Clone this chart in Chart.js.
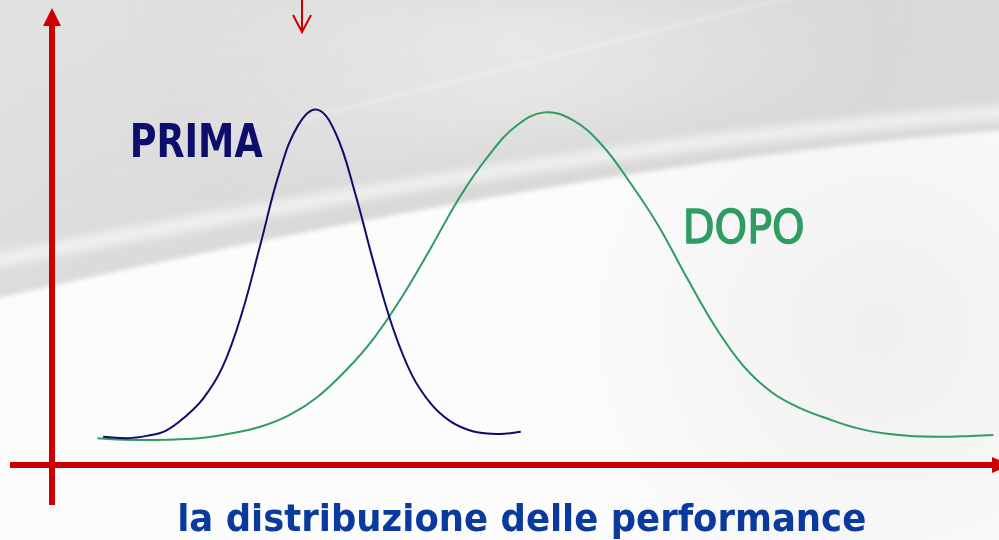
<!DOCTYPE html>
<html>
<head>
<meta charset="utf-8">
<script src="https://cdn.jsdelivr.net/npm/chart.js@4.4.1/dist/chart.umd.min.js"></script>
<style>
  html, body { margin: 0; padding: 0; background: #fcfcfc; overflow: hidden; }
  #wrap { width: 999px; height: 540px; }
</style>
</head>
<body>
<div id="wrap"><canvas id="c" width="999" height="540"></canvas></div>
<script>
// ---- Data (performance units 0..100, frequency units 0..100) ----
const primaX = [5.4, 8, 10, 12, 14, 16, 18, 20, 22, 24, 26, 28, 30, 32, 34, 36, 38, 40, 42, 44, 46, 48, 49.5];
const primaY = [6.2, 5.9, 6.4, 7.5, 10.5, 14.7, 21.5, 33.0, 48.4, 64.2, 74.7, 78.1, 72.7, 59.8, 44.2, 30.1, 19.8, 13.5, 9.7, 7.7, 6.9, 6.9, 7.3];

const dopoX = [4.8, 7, 10, 13, 16, 19, 22, 25, 28, 31, 34, 37, 40, 43, 46, 49, 52, 55, 58, 61, 64, 67, 70, 73, 76, 79, 82, 85, 88, 91, 94, 97, 99.4];
const dopoY = [5.9, 5.6, 5.5, 5.6, 6.0, 7.0, 8.4, 10.9, 14.9, 20.7, 27.9, 37.1, 47.7, 58.7, 67.7, 74.5, 77.5, 75.8, 70.5, 62.2, 52.7, 41.3, 30.5, 21.8, 16.0, 12.5, 10.1, 8.1, 6.9, 6.3, 6.2, 6.4, 6.6];

const seriesLabels = ['PRIMA', 'DOPO'];
const axisTitle = 'la distribuzione delle performance';
const markerX = 26.4;           // small arrow marker on the performance axis
const primaLabelPos = [8.2, 67.7];
const dopoLabelPos = [66.6, 48.8];

// ---- Colours ----
const NAVY = '#0d0d6b';
const GREEN = '#2f9c63';
const RED = '#cc0000';
const TITLE_BLUE = '#0a3a9e';

function fitText(ctx, text, x, y, targetW, center, strokeW) {
  const w = ctx.measureText(text).width;
  const s = targetW / w;
  ctx.save();
  ctx.translate(x, y);
  ctx.scale(s, 1);
  ctx.textAlign = 'left';
  ctx.textBaseline = 'alphabetic';
  const tx = center ? -w / 2 : 0;
  ctx.fillText(text, tx, 0);
  if (strokeW) {
    ctx.lineWidth = strokeW;
    ctx.lineJoin = 'round';
    ctx.strokeStyle = ctx.fillStyle;
    ctx.strokeText(text, tx, 0);
  }
  ctx.restore();
}

const backgroundPlugin = {
  id: 'bgPaint',
  beforeDraw(chart) {
    const { ctx, width, height } = chart;
    ctx.save();
    ctx.fillStyle = '#fcfcfc';
    ctx.fillRect(0, 0, width, height);

    // soft grey shade in the lower right
    let rg = ctx.createRadialGradient(880, 330, 10, 880, 330, 330);
    rg.addColorStop(0, 'rgba(228,228,228,0.5)');
    rg.addColorStop(1, 'rgba(228,228,228,0)');
    ctx.fillStyle = rg;
    ctx.fillRect(0, 0, width, height);

    // grey upper region
    ctx.filter = 'blur(2px)';
    const lg = ctx.createLinearGradient(0, 0, 200, 320);
    lg.addColorStop(0, '#e2e2e2');
    lg.addColorStop(1, '#d9d9d9');
    ctx.fillStyle = lg;
    ctx.beginPath();
    ctx.moveTo(-10, -10);
    ctx.lineTo(width + 10, -10);
    ctx.lineTo(width + 10, 130);
    ctx.quadraticCurveTo(600, 160, -10, 300);
    ctx.closePath();
    ctx.fill();

    // slightly lighter top-middle wash
    ctx.filter = 'blur(24px)';
    const tg = ctx.createRadialGradient(520, 20, 10, 520, 20, 360);
    tg.addColorStop(0, 'rgba(236,236,236,0.8)');
    tg.addColorStop(1, 'rgba(236,236,236,0)');
    ctx.fillStyle = tg;
    ctx.beginPath();
    ctx.moveTo(0, 0); ctx.lineTo(width, 0); ctx.lineTo(width, 90);
    ctx.quadraticCurveTo(600, 110, 0, 230);
    ctx.closePath();
    ctx.fill();

    // white streak above the boundary
    ctx.filter = 'blur(5px)';
    ctx.strokeStyle = 'rgba(255,255,255,0.6)';
    ctx.lineWidth = 14;
    ctx.beginPath();
    ctx.moveTo(-10, 262);
    ctx.quadraticCurveTo(600, 140, width + 10, 112);
    ctx.stroke();

    // thin diagonal light streak
    ctx.filter = 'blur(2px)';
    ctx.strokeStyle = 'rgba(255,255,255,0.35)';
    ctx.lineWidth = 3;
    ctx.beginPath();
    ctx.moveTo(300, 120);
    ctx.lineTo(800, -5);
    ctx.stroke();

    // faint horizontal texture streaks top-left
    ctx.filter = 'blur(1.5px)';
    ctx.strokeStyle = 'rgba(255,255,255,0.12)';
    ctx.lineWidth = 2;
    [40, 58, 83, 104, 128, 150, 176, 205].forEach((yy, i) => {
      ctx.beginPath();
      ctx.moveTo(0, yy);
      ctx.lineTo(260 + i * 15, yy - 6);
      ctx.stroke();
    });
    ctx.filter = 'none';
    ctx.restore();
  }
};

const decorPlugin = {
  id: 'decor',
  afterDatasetsDraw(chart) {
    const { ctx, chartArea } = chart;
    const xs = chart.scales.x, ys = chart.scales.y;
    const ox = xs.getPixelForValue(0);
    const oy = ys.getPixelForValue(0);
    const right = chart.width;
    ctx.save();

    // axes
    ctx.strokeStyle = RED;
    ctx.fillStyle = RED;
    ctx.lineWidth = 6;
    ctx.lineCap = 'butt';
    ctx.beginPath();
    ctx.moveTo(ox, oy + 40);
    ctx.lineTo(ox, chartArea.top + 14);
    ctx.stroke();
    ctx.beginPath();
    ctx.moveTo(10, oy);
    ctx.lineTo(right - 6, oy);
    ctx.stroke();
    // y arrow head
    ctx.beginPath();
    ctx.moveTo(ox, chartArea.top - 2);
    ctx.lineTo(ox + 9, chartArea.top + 16);
    ctx.lineTo(ox - 9, chartArea.top + 16);
    ctx.closePath();
    ctx.fill();
    // x arrow head (partly outside)
    ctx.beginPath();
    ctx.moveTo(right - 7, oy - 8);
    ctx.lineTo(right + 11, oy);
    ctx.lineTo(right - 7, oy + 8);
    ctx.closePath();
    ctx.fill();

    // small marker arrow at top
    const mx = xs.getPixelForValue(markerX);
    ctx.lineWidth = 2;
    ctx.beginPath();
    ctx.moveTo(mx, 0);
    ctx.lineTo(mx, 31);
    ctx.stroke();
    ctx.beginPath();
    ctx.moveTo(mx - 9, 15);
    ctx.lineTo(mx, 32);
    ctx.lineTo(mx + 9, 15);
    ctx.stroke();

    // series labels
    ctx.fillStyle = NAVY;
    ctx.font = 'bold 47px "DejaVu Sans"';
    fitText(ctx, seriesLabels[0], xs.getPixelForValue(primaLabelPos[0]), ys.getPixelForValue(primaLabelPos[1]), 133, false, 0);
    ctx.fillStyle = GREEN;
    ctx.font = '47px "DejaVu Sans"';
    fitText(ctx, seriesLabels[1], xs.getPixelForValue(dopoLabelPos[0]), ys.getPixelForValue(dopoLabelPos[1]), 122, false, 1.4);

    // axis title
    ctx.fillStyle = TITLE_BLUE;
    ctx.font = 'bold 38px "DejaVu Sans"';
    fitText(ctx, axisTitle, xs.getPixelForValue(49.6), oy + 66, 689, true, 0);
    ctx.restore();
  }
};

new Chart(document.getElementById('c'), {
  type: 'line',
  data: {
    datasets: [
      {
        label: seriesLabels[0],
        data: primaX.map((x, i) => ({ x, y: primaY[i] })),
        borderColor: NAVY,
        borderWidth: 2,
        pointRadius: 0,
        tension: 0.4,
        fill: false
      },
      {
        label: seriesLabels[1],
        data: dopoX.map((x, i) => ({ x, y: dopoY[i] })),
        borderColor: GREEN,
        borderWidth: 2,
        pointRadius: 0,
        tension: 0.4,
        fill: false
      }
    ]
  },
  options: {
    responsive: false,
    animation: false,
    layout: { padding: { left: 52, right: 0, top: 10, bottom: 75 } },
    scales: {
      x: { type: 'linear', min: 0, max: 100, display: false },
      y: { type: 'linear', min: 0, max: 100, display: false }
    },
    plugins: { legend: { display: false }, tooltip: { enabled: false } }
  },
  plugins: [backgroundPlugin, decorPlugin]
});
</script>
</body>
</html>
